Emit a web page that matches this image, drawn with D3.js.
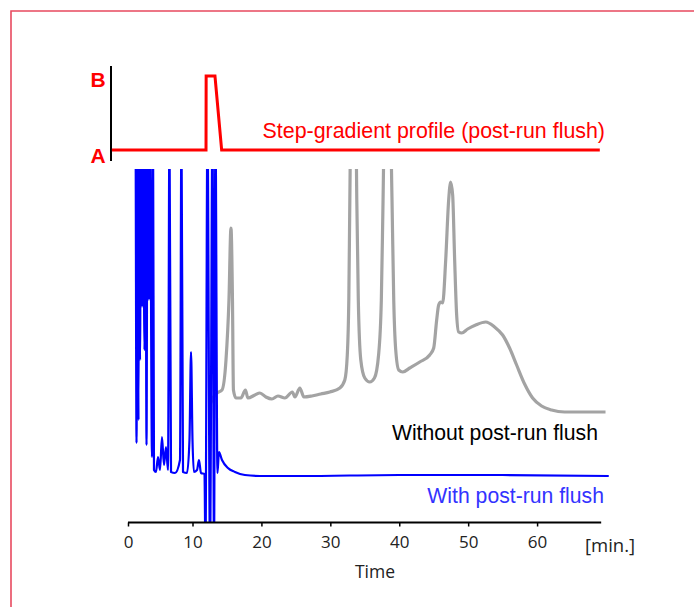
<!DOCTYPE html>
<html><head><meta charset="utf-8">
<script src="https://cdn.jsdelivr.net/npm/d3@7"></script>
<style>
html,body{margin:0;padding:0;background:#fff;}
svg{display:block;}
</style></head>
<body>
<svg id="chart" width="694" height="607"></svg>
<script>
// ---- Data ----
const xTicks = [0, 10, 20, 30, 40, 50, 60];
const xUnitLabel = "[min.]";
const xTitle = "Time";
const gradientLabels = ["A", "B"];

// step-gradient profile: time (min), %B
const gradTime = [-2.5, 11.96, 11.98, 13.26, 14.23, 69.1];
const gradB    = [0, 0, 100, 100, 0, 0];

// Without post-run flush (grey trace): time, signal (arb.)
const greyTime = [12.54,12.97,13.55,14.28,14.86,15.29,15.58,15.8,15.94,16.3,17.03,17.68,18.04,19.06,19.78,20.65,21.52,22.4,23.41,24.49,24.86,25.58,26.16,27.32,28.6,29.93,31.38,32.1,32.46,32.68,32.83,32.97,33.7,33.84,34.06,34.42,35,35.72,36.4,37.0,37.4,37.65,37.85,38.7,38.95,39.2,39.49,39.93,40.51,41.52,42.97,44.42,45,45.43,45.72,46.01,46.3,46.74,47.17,47.46,47.75,48.04,48.33,48.62,49.06,49.93,51.09,52.55,53.84,55,56.01,57.03,58.19,59.35,60.65,62.1,63.99,66.16,69.93];
const greyValue = [117,124,129,132,162,222,294,222,132,124,124,132,124,127,129,125,123,126,124,130,125,134,125,126,128,130,134,142,167,222,322,400,400,322,222,162,144,140,144,167,222,322,400,400,322,222,172,152,150,154,160,167,174,202,217,220,219,262,322,340,327,262,207,190,189,193,197,200,195,187,174,157,138,124,116,112,110,110,110];

// With post-run flush (blue trace): time, signal (arb.)
const blueTime = [1.1,1.16,1.32,1.47,1.63,1.75,1.86,2.02,2.17,2.33,2.56,2.71,2.87,3.02,3.26,3.41,3.72,3.88,4.03,4.34,4.65,4.96,5.27,5.58,5.89,6.2,6.43,6.67,7.29,8.06,8.29,8.53,9.15,9.53,9.77,10.0,10.2,10.65,10.94,11.23,11.74,11.88,12.17,12.54,12.9,13.12,13.33,13.62,13.84,14.28,15.14,16.16,17.6,19.8,25.6,40,55,70.4];
const blueValue = [400,400,79,400,102,400,162,400,215,400,172,400,77,400,222,400,65,400,52,50,65,52,85,57,75,52,400,50,49,62,400,50,49,82,170,82,50,52,62,49,48,-30,400,-30,400,-30,400,49,70,62,54,50,47,46,46,47,47,46];

// ---- Layout ----
const svg = d3.select("#chart");
const W = 694, H = 607;

// frame
svg.append("path")
  .attr("d", `M11,${H+5} L11,11 L${W+5},11`)
  .attr("fill", "none").attr("stroke", "#e84a5f").attr("stroke-width", 1.6);

const x = d3.scaleLinear().domain([0, 10, 70]).range([128, 192.5, 606]);
const y = d3.scaleLinear().domain([0, 352]).range([522, 170]);
const yG = d3.scaleLinear().domain([0, 100]).range([150, 76]);

// clip for chromatograms
svg.append("defs").append("clipPath").attr("id", "clip")
  .append("rect").attr("x", 100).attr("y", 169).attr("width", 560).attr("height", 522 - 169);

const line = d3.line().curve(d3.curveLinear);
const smooth = d3.line().curve(d3.curveMonotoneX);

const plot = svg.append("g").attr("clip-path", "url(#clip)");
plot.append("path")
  .attr("d", smooth(greyTime.map((t, i) => [x(t), y(greyValue[i])])))
  .attr("fill", "none").attr("stroke", "#a3a3a3").attr("stroke-width", 3.2)
  .attr("stroke-linejoin", "round");
plot.append("path")
  .attr("d", smooth(blueTime.map((t, i) => [x(t), y(blueValue[i])])))
  .attr("fill", "none").attr("stroke", "#0000ff").attr("stroke-width", 2.2)
  .attr("stroke-linejoin", "round");

// gradient panel
svg.append("line").attr("x1", 111).attr("x2", 111).attr("y1", 66).attr("y2", 161)
  .attr("stroke", "#000").attr("stroke-width", 2);
svg.append("path")
  .attr("d", line(gradTime.map((t, i) => [x(t), yG(gradB[i])])))
  .attr("fill", "none").attr("stroke", "#ff0000").attr("stroke-width", 3);
svg.append("text").text(gradientLabels[1]).attr("x", 98).attr("y", yG(100) + 11)
  .attr("text-anchor", "middle").attr("font-family", "Liberation Sans, Arial, sans-serif")
  .attr("font-weight", "bold").attr("font-size", 21).attr("fill", "#ff0000");
svg.append("text").text(gradientLabels[0]).attr("x", 98).attr("y", yG(0) + 13)
  .attr("text-anchor", "middle").attr("font-family", "Liberation Sans, Arial, sans-serif")
  .attr("font-weight", "bold").attr("font-size", 21).attr("fill", "#ff0000");

// labels
const lab = (txt, xx, yy, col, fs) => svg.append("text").text(txt).attr("x", xx).attr("y", yy)
  .attr("text-anchor", "end").attr("font-family", "Liberation Sans, Arial, sans-serif")
  .attr("font-size", fs).attr("fill", col);
lab("Step-gradient profile (post-run flush)", 605, 138, "#ff0000", 21.4);
lab("Without post-run flush", 598, 440, "#000000", 21.2);
lab("With post-run flush", 604, 503, "#3333ff", 21.2);

// x axis
const axis = d3.axisBottom(x).tickValues(xTicks).tickSize(4).tickSizeOuter(0);
const gA = svg.append("g").attr("transform", "translate(0,522.5)").call(axis);
gA.select(".domain").remove();
gA.append("line").attr("x1", x(0)).attr("x2", x(69.3)).attr("stroke", "#000").attr("stroke-width", 1.8);
gA.selectAll(".tick line").attr("stroke", "#000").attr("stroke-width", 1.5);
gA.selectAll(".tick text").attr("dy", null).attr("y", 25)
  .attr("font-family", "Open Sans, sans-serif").attr("font-size", 17).attr("fill", "#222");
svg.append("text").text(xUnitLabel).attr("x", 585).attr("y", 552)
  .attr("font-family", "Open Sans, sans-serif").attr("font-size", 18.5).attr("fill", "#222");
svg.append("text").text(xTitle).attr("x", 375).attr("y", 578).attr("text-anchor", "middle")
  .attr("font-family", "Open Sans, sans-serif").attr("font-size", 17.5).attr("fill", "#222");
</script>
</body></html>
